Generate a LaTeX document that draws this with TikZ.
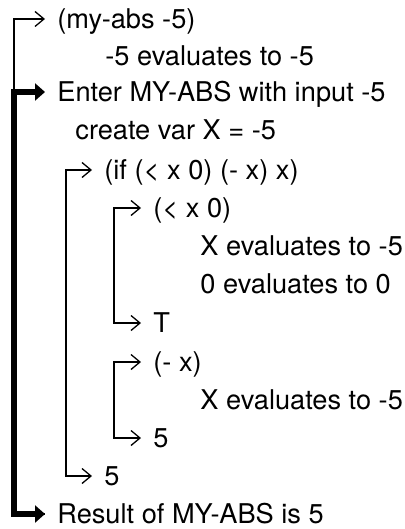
\documentclass[tikz,border=0pt]{standalone}
\usepackage{fontspec}
\setmainfont{TeX Gyre Heros}
\usetikzlibrary{arrows.meta}

\begin{document}
\begin{tikzpicture}[
  x=0.5pt, y=-0.5pt,
  font=\fontsize{13.6}{16}\selectfont,
  row/.style    = {anchor=west, inner xsep=6pt, inner ysep=0pt,
                   text height=9.8pt, text depth=0pt},
  call/.style   = {line width=0.65pt,
                   {Straight Barb[length=4.5pt,width=7.5pt]}-{Straight Barb[length=4.5pt,width=7.5pt]}},
  outer/.style  = {line width=0.65pt, {Straight Barb[length=4.5pt,width=7.5pt]}-},
  frame/.style  = {line width=3.2pt,
                   {Triangle[length=5pt,width=8.5pt]}-{Triangle[length=5pt,width=8.5pt]}},
]
\useasboundingbox (0,0) rectangle (404,529);

% ── Trace lines ───────────────────────────────────────────────────────────────
\node[row] (call)   at ( 45, 19) {(my-abs -5)};
\node[row] (arg)    at ( 93, 56) {-5 evaluates to -5};
\node[row] (enter)  at ( 45, 92) {Enter MY-ABS with input -5};
\node[row] (var)    at ( 63,130) {create var X = -5};
\node[row] (ifx)    at ( 92,170) {(if (< x 0) (- x) x)};
\node[row] (lt)     at (141,208) {(< x 0)};
\node[row] (xa)     at (188,246) {X evaluates to -5};
\node[row] (za)     at (188,284) {0 evaluates to 0};
\node[row] (ltres)  at (141,323) {T};
\node[row] (neg)    at (141,362) {(- x)};
\node[row] (xb)     at (188,400) {X evaluates to -5};
\node[row] (negres) at (141,438) {5};
\node[row] (ifres)  at ( 92,476) {5};
\node[row] (result) at ( 45,514) {Result of MY-ABS is 5};

% ── Call brackets ─────────────────────────────────────────────────────────────
\draw[outer] (call.west)  -- ++(-31,0) |- (result.west);
\draw[frame] (enter.west) -- ++(-31,0) |- (result.west);
\draw[call]  (ifx.west)   -- ++(-26,0) |- (ifres.west);
\draw[call]  (lt.west)    -- ++(-27,0) |- (ltres.west);
\draw[call]  (neg.west)   -- ++(-27,0) |- (negres.west);

\end{tikzpicture}
\end{document}
